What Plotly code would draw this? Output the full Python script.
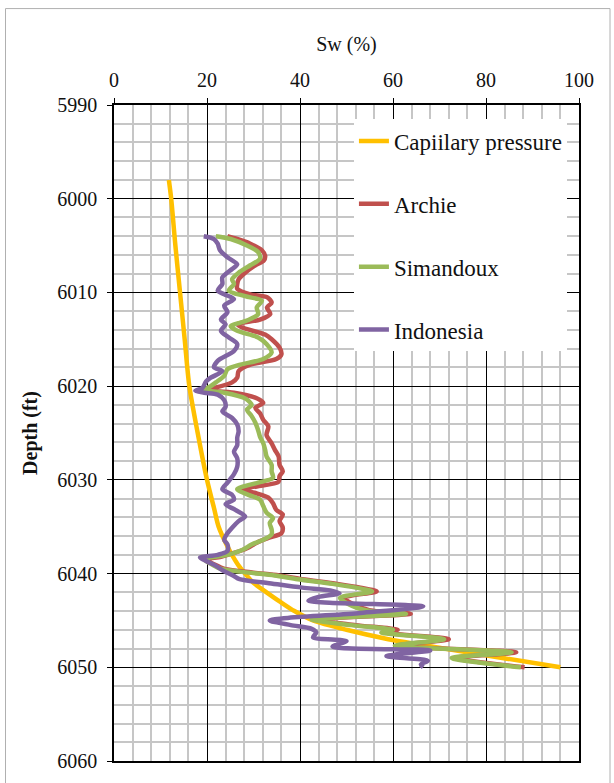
import plotly.graph_objects as go

# ---------------- data ----------------
cap_depth = [5998, 6000, 6005, 6010, 6015, 6020, 6025, 6030, 6033, 6035, 6037, 6039,
             6040, 6041, 6042, 6043, 6044, 6045, 6046, 6047, 6048, 6049, 6050]
cap_sw = [11.8, 12.3, 13.2, 14.2, 15.2, 16.2, 18.0, 20.0, 21.5, 22.5, 24.3, 26.6,
          28.2, 30.0, 32.8, 35.7, 38.8, 42.8, 50.0, 59.0, 71.0, 83.5, 96.0]

archie_depth = [6004.0, 6004.3, 6004.8, 6005.5, 6006.1, 6006.6, 6007.1, 6007.9, 6008.6, 6009.1,
                6009.6, 6010.2, 6010.5, 6011.1, 6011.6, 6012.3, 6012.9, 6013.4, 6013.8, 6014.5,
                6015.0, 6015.9, 6016.6, 6017.1, 6017.7, 6018.4, 6019.1, 6019.6, 6020.2, 6020.4,
                6020.7, 6021.3, 6021.8, 6022.3, 6022.9, 6023.6, 6024.3, 6025.2, 6026.1, 6026.8,
                6027.5, 6028.4, 6029.1, 6029.6, 6030.2, 6030.7, 6031.0, 6031.4, 6031.9, 6032.5,
                6033.2, 6033.7, 6034.4, 6035.1, 6035.7, 6036.2, 6036.7, 6037.3, 6037.8, 6038.2,
                6038.5, 6039.0, 6039.5, 6039.9, 6040.2, 6040.6, 6041.1, 6041.5, 6041.9, 6042.6,
                6043.4, 6044.0, 6044.3, 6044.9, 6045.5, 6046.0, 6046.3, 6047.0, 6047.7, 6048.4,
                6049.0, 6050.0]
archie_sw = [24.4, 26.5, 29.3, 31.8, 32.5, 32.2, 30.4, 28.2, 26.8, 26.5,
             26.5, 29.3, 32.9, 33.9, 32.9, 33.6, 31.4, 26.5, 27.9, 32.5,
             33.9, 35.6, 36.0, 34.9, 29.3, 26.8, 26.5, 25.4, 21.5, 19.4,
             25.8, 30.7, 32.1, 30.4, 31.4, 32.1, 33.2, 32.8, 33.9, 34.6,
             35.4, 35.6, 36.3, 35.6, 35.4, 30.7, 27.2, 30.4, 33.2, 34.2,
             34.9, 36.3, 35.6, 36.3, 36.0, 33.2, 30.7, 28.6, 25.8, 23.0,
             19.6, 21.5, 23.8, 30.0, 35.5, 40.5, 48.0, 53.0, 56.5, 49.5,
             52.0, 56.0, 63.8, 43.5, 52.0, 61.0, 58.5, 72.0, 61.0, 86.5,
             73.5, 88.3]

siman_depth = [6004.0, 6004.3, 6005.0, 6005.7, 6006.4, 6007.1, 6007.9, 6008.6, 6009.1, 6009.8,
               6010.4, 6010.9, 6011.6, 6012.3, 6013.0, 6013.6, 6014.1, 6014.8, 6015.5, 6016.4,
               6017.1, 6017.7, 6018.2, 6018.9, 6019.6, 6020.2, 6020.4, 6020.7, 6021.3, 6022.0,
               6022.5, 6023.2, 6023.9, 6024.7, 6025.4, 6026.1, 6026.8, 6027.5, 6028.4, 6029.1,
               6029.8, 6030.3, 6031.0, 6031.6, 6032.1, 6032.8, 6033.5, 6034.1, 6034.6, 6035.3,
               6035.8, 6036.4, 6036.9, 6037.4, 6038.0, 6038.5, 6039.0, 6039.5, 6039.9, 6040.2,
               6040.6, 6041.1, 6041.5, 6041.9, 6042.6, 6043.4, 6044.0, 6044.3, 6044.9, 6045.5,
               6046.0, 6046.3, 6047.0, 6047.7, 6048.4, 6049.0, 6050.0]
siman_sw = [21.9, 25.1, 28.6, 31.0, 31.4, 29.3, 26.8, 25.4, 25.8, 24.7,
            28.2, 31.8, 30.7, 31.0, 28.6, 25.1, 26.5, 31.0, 32.8, 33.9,
            32.1, 27.2, 24.4, 23.7, 21.9, 20.1, 18.7, 23.7, 28.2, 29.6,
            28.6, 29.6, 30.4, 31.0, 31.4, 32.1, 32.5, 32.8, 33.9, 33.9,
            34.2, 31.0, 26.5, 28.9, 31.4, 32.1, 32.8, 34.2, 33.5, 33.9,
            33.9, 32.1, 29.6, 27.9, 24.4, 19.4, 21.0, 23.0, 29.0, 34.5,
            39.5, 47.0, 52.0, 55.5, 48.6, 51.0, 55.0, 62.8, 42.5, 51.0,
            60.0, 57.5, 71.0, 60.4, 85.5, 72.6, 87.5]

indo_depth = [6004.0, 6004.3, 6004.8, 6005.5, 6006.25, 6007.0, 6007.5, 6008.4, 6009.1, 6009.8,
              6010.2, 6010.7, 6011.4, 6012.1, 6012.9, 6013.4, 6014.1, 6014.8, 6015.5, 6016.25,
              6017.3, 6018.0, 6018.4, 6019.1, 6019.5, 6020.2, 6020.5, 6020.7, 6020.9, 6021.5,
              6022.2, 6022.7, 6023.4, 6024.1, 6024.8, 6025.5, 6026.3, 6027.0, 6027.7, 6028.6,
              6029.4, 6030.3, 6031.0, 6031.6, 6032.1, 6032.6, 6033.2, 6033.9, 6034.4, 6035.1,
              6035.7, 6036.4, 6036.9, 6037.6, 6038.0, 6038.3, 6038.7, 6039.2, 6039.7, 6040.2,
              6040.6, 6041.0, 6041.5, 6041.8, 6042.1, 6042.5, 6042.9, 6043.5, 6044.2, 6045.0,
              6045.5, 6045.9, 6046.3, 6046.8, 6047.2, 6047.8, 6048.2, 6048.8, 6049.3, 6049.7,
              6050.0]
indo_sw = [19.3, 21.5, 22.3, 22.8, 24.4, 26.5, 25.4, 23.3, 23.3, 22.3,
           23.7, 25.8, 23.7, 24.4, 23.0, 24.0, 23.0, 24.7, 26.5, 25.8,
           22.3, 21.5, 23.3, 20.8, 19.8, 19.0, 17.5, 19.4, 22.3, 23.7,
           24.0, 23.3, 25.4, 26.5, 26.8, 26.5, 26.5, 25.8, 26.5, 26.5,
           25.8, 24.4, 23.3, 25.4, 25.8, 24.0, 26.1, 28.2, 26.8, 25.4,
           24.4, 23.7, 24.4, 24.4, 22.3, 18.5, 20.0, 22.0, 23.5, 25.6,
           27.0, 33.0, 40.5, 46.5, 48.5, 44.0, 41.8, 66.5, 53.0, 33.5,
           38.0, 42.5, 43.5, 42.8, 50.0, 47.0, 68.0, 58.6, 67.5, 66.0,
           66.5]

series_names = ["Capiilary pressure", "Archie", "Simandoux", "Indonesia"]
series_colors = ["#FFC000", "#C0504D", "#9BBB59", "#8064A2"]

FONT = "'Liberation Serif', 'Times New Roman', serif"
TXT = "#111111"

fig = go.Figure()
all_x = [cap_sw, archie_sw, siman_sw, indo_sw]
all_y = [cap_depth, archie_depth, siman_depth, indo_depth]
for i, (name, color) in enumerate(zip(series_names, series_colors)):
    fig.add_trace(go.Scatter(
        x=all_x[i], y=all_y[i], mode="lines", name=name,
        line=dict(color=color, width=4.5, shape="spline", smoothing=0.8),
        legendgroup=name,
    ))

fig.update_xaxes(
    range=[0, 100], side="top", tick0=0, dtick=20,
    showgrid=True, gridcolor="black", gridwidth=1.3,
    minor=dict(dtick=4, showgrid=True, gridcolor="#c6c6c6", gridwidth=1.6),
    showline=True, linecolor="black", linewidth=1.5, mirror=True,
    ticks="outside", ticklen=5, tickcolor="black", tickwidth=1.3,
    ticklabelstandoff=3,
    zeroline=False,
    tickfont=dict(family=FONT, size=20, color=TXT),
    title=dict(text="Sw (%)", font=dict(family=FONT, size=20, color=TXT), standoff=12),
)
fig.update_yaxes(
    range=[6060, 5990], tick0=5990, dtick=10,
    showgrid=True, gridcolor="black", gridwidth=1.3,
    minor=dict(dtick=2, showgrid=True, gridcolor="#c6c6c6", gridwidth=1.6),
    showline=True, linecolor="black", linewidth=1.5, mirror=True,
    ticks="outside", ticklen=5, tickcolor="black", tickwidth=1.3,
    ticklabelstandoff=6,
    zeroline=False,
    tickfont=dict(family=FONT, size=20, color=TXT),
    title=dict(text="<b>Depth (ft)</b>", font=dict(family=FONT, size=20, color=TXT), standoff=14),
)

fig.update_layout(
    width=614, height=783,
    margin=dict(l=114, r=35, t=105, b=22),
    paper_bgcolor="white", plot_bgcolor="white",
    showlegend=True,
    legend=dict(
        x=0.516, y=0.978, xanchor="left", yanchor="top",
        bgcolor="white", borderwidth=0,
        font=dict(family=FONT, size=23, color=TXT),
        tracegroupgap=30,
    ),
    shapes=[dict(
        type="rect", xref="paper", yref="paper",
        x0=-0.2333, x1=1.0667, y0=-0.05, y1=1.147,
        line=dict(color="#b0b0b0", width=1), fillcolor="rgba(0,0,0,0)",
    )],
)

fig.write_html("out.html")
